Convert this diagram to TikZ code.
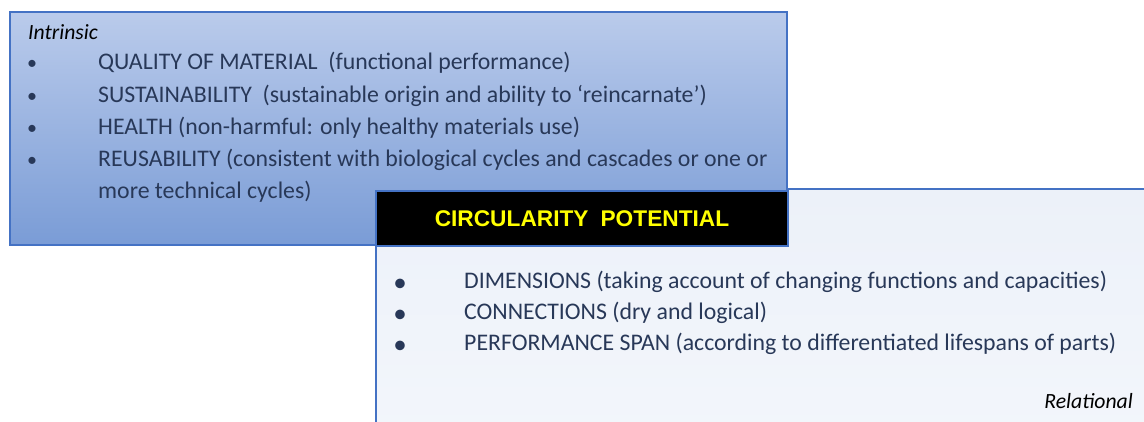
\documentclass[tikz,border=0pt]{standalone}
\usepackage{fontspec}
\setmainfont{Carlito}
\newfontfamily\headfont{Liberation Sans}
\definecolor{bord}{RGB}{68,114,196}
\definecolor{txt}{RGB}{40,56,88}
\definecolor{topA}{RGB}{186,203,235}
\definecolor{topB}{RGB}{122,156,214}
\definecolor{botA}{RGB}{236,241,249}
\definecolor{botB}{RGB}{243,246,251}
\definecolor{yel}{RGB}{255,255,0}
\tikzset{
  boxline/.style={draw=bord, line width=2pt},
  item/.style={anchor=base west, inner sep=0pt, text=txt, font=\fontsize{23.8}{26}\selectfont},
  bul/.style={anchor=base, inner sep=0pt, text=txt, font=\fontsize{20}{24}\selectfont},
  tag/.style={inner sep=0pt, text=black, font=\fontsize{21.7}{24}\selectfont\itshape},
}
\begin{document}
\begin{tikzpicture}[x=1pt,y=-1pt]
\useasboundingbox (0,0) rectangle (1144,421);
% relational box (behind)
\path[boxline, top color=botA, bottom color=botB] (376,189) rectangle (1160,440);
% intrinsic box
\path[boxline, top color=topA, bottom color=topB] (10,12) rectangle (787,245);
% title box
\node[boxline, fill=black, anchor=north west, minimum width=412pt, minimum height=55pt, inner sep=0pt] (title) at (375,190) {};
\node[inner sep=0pt, text=yel, font=\fontsize{22.7}{26}\headfont\bfseries] (titletext) at (title.center) {CIRCULARITY\hspace{12pt}POTENTIAL};
% intrinsic texts
\node[tag, anchor=base west] (intr) at (28,39) {Intrinsic};
\node[bul] (b1) at (32,69) {\textbullet};
\node[bul] (b2) at (32,102) {\textbullet};
\node[bul] (b3) at (32,134) {\textbullet};
\node[bul] (b4) at (32,166) {\textbullet};
\node[item] (t1) at (98,69) {QUALITY OF MATERIAL\ \ (functional performance)};
\node[item] (t2) at (98,102) {SUSTAINABILITY\ \ (sustainable origin and ability to ‘reincarnate’)};
\node[item] (t3) at (98,134) {HEALTH (non-harmful: only healthy materials\ use)};
\node[item] (t4) at (98,166) {REUSABILITY (consistent with biological cycles and cascades or one or};
\node[item] (t5) at (98,198) {more technical cycles)};
% relational texts
\node[bul, font=\fontsize{27}{28}\selectfont] (c1) at (400,291) {\textbullet};
\node[bul, font=\fontsize{27}{28}\selectfont] (c2) at (400,322) {\textbullet};
\node[bul, font=\fontsize{27}{28}\selectfont] (c3) at (400,353) {\textbullet};
\node[item] (r1) at (464,288) {DIMENSIONS (taking account of changing functions and capacities)};
\node[item] (r2) at (464,319) {CONNECTIONS (dry and logical)};
\node[item] (r3) at (464,350) {PERFORMANCE SPAN (according to differentiated lifespans of parts)};
\node[tag, anchor=base east] (rel) at (1133,408) {Relational};
\end{tikzpicture}
\end{document}
